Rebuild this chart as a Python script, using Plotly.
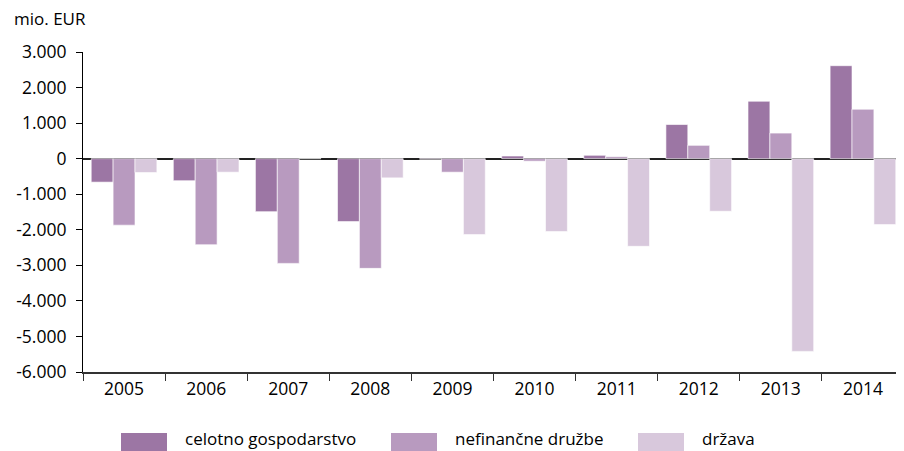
import plotly.graph_objects as go

years = ['2005', '2006', '2007', '2008', '2009', '2010', '2011', '2012', '2013', '2014']
celotno = [-660, -620, -1490, -1770, -15, 75, 95, 960, 1615, 2615]
nefinancne = [-1870, -2420, -2945, -3085, -380, -70, 55, 375, 720, 1390]
drzava = [-390, -380, 0, -540, -2135, -2050, -2465, -1480, -5420, -1855]

series_names = ['celotno gospodarstvo', 'nefinančne družbe', 'država']
colors = ['#9c76a4', '#b89abf', '#d8c8dc']

y_ticks = [3000, 2000, 1000, 0, -1000, -2000, -3000, -4000, -5000, -6000]
y_ticktext = ['3.000', '2.000', '1.000', '0', '-1.000', '-2.000', '-3.000', '-4.000', '-5.000', '-6.000']

FONT = 'Open Sans'
# the page body has an 8px margin, so the figure is a bit smaller than the window
W, H = 896, 443
L, T, B = 75, 44, 79
PW, PH = W - L, H - T - B


def px(x):
    return (x - L) / PW


def py(y):
    return (H - B - y) / PH


fig = go.Figure()
for name, vals, col in zip(series_names, [celotno, nefinancne, drzava], colors):
    fig.add_trace(go.Bar(x=years, y=vals, name=name, marker_color=col,
                         marker_line=dict(color='rgba(255,255,255,0.6)', width=1)))

fig.update_layout(
    width=W, height=H,
    barmode='group', bargap=0.2, bargroupgap=0,
    showlegend=False,
    plot_bgcolor='white', paper_bgcolor='white',
    margin=dict(l=L, r=0, t=T, b=B, autoexpand=False),
    font=dict(family=FONT, size=17, color='black'),
    xaxis=dict(
        type='category', automargin=False,
        showline=True, linecolor='#333', linewidth=2,
        ticks='outside', tickson='boundaries', ticklen=7, tickcolor='#333',
        showgrid=False, tickfont=dict(size=17.5),
    ),
    yaxis=dict(
        range=[-6000, 3000], automargin=False,
        tickvals=y_ticks, ticktext=y_ticktext,
        showline=True, linecolor='black', linewidth=1,
        ticks='outside', ticklen=6, tickcolor='black', ticklabelstandoff=6,
        showgrid=False, zeroline=True, zerolinecolor='#222', zerolinewidth=2,
        tickfont=dict(size=17.5), layer='above traces',
    ),
)

fig.add_annotation(text='mio. EUR', xref='paper', yref='paper', x=px(4), y=py(10),
                   xanchor='left', yanchor='middle', showarrow=False,
                   font=dict(family=FONT, size=17))

# legend drawn by hand so the swatches are wide like the original
leg_x = [113, 383, 630]
for i, (name, col) in enumerate(zip(series_names, colors)):
    fig.add_shape(type='rect', xref='paper', yref='paper',
                  x0=px(leg_x[i]), x1=px(leg_x[i] + 46),
                  y0=py(443), y1=py(425),
                  fillcolor=col, line_width=0)
    fig.add_annotation(text=name, xref='paper', yref='paper', x=px(leg_x[i] + 62),
                       y=py(430), xanchor='left', yanchor='middle',
                       showarrow=False, font=dict(family=FONT, size=17))

fig.write_html('out.html')
